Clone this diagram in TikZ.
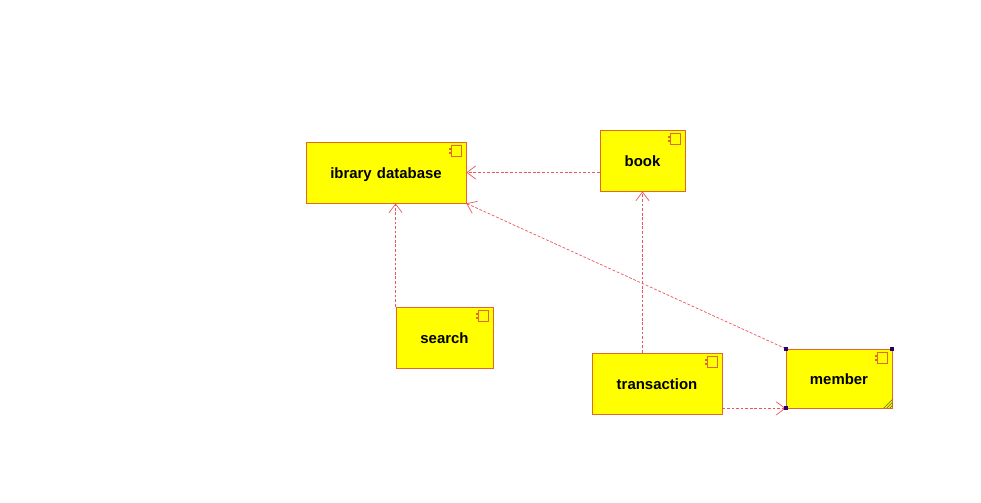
\documentclass[tikz,border=0pt]{standalone}
\usepackage{fontspec}
\setmainfont{Liberation Sans}
\usetikzlibrary{arrows.meta}
\definecolor{compfill}{RGB}{255,255,0}
\definecolor{compline}{RGB}{225,105,40}
\definecolor{depline}{RGB}{235,85,95}
\definecolor{handle}{RGB}{40,0,110}
\definecolor{grip}{RGB}{120,120,40}
\tikzset{
    compbox/.style={draw=compline,fill=compfill,line width=0.45pt,inner sep=0pt,text height=7.2pt,text depth=0pt,minimum height=1.22cm,font=\fontsize{8.5}{10}\selectfont\bfseries},
    dep/.style={draw=depline,line width=0.4pt,dash pattern=on 1.6pt off 1pt,-{Straight Barb[length=5pt,width=7.5pt,line width=0.4pt]}}
}
\begin{document}
\begin{tikzpicture}
    \useasboundingbox (0,0) rectangle (19.62,10.04);

    \node[compbox,minimum width=3.2cm] (library) at (7.72,6.59) {ibrary\hspace{0.35em}database};
    \node[compbox,minimum width=1.7cm] (book) at (12.85,6.83) {book};
    \node[compbox,minimum width=1.94cm] (search) at (8.89,3.29) {search};
    \node[compbox,minimum width=2.6cm] (transaction) at (13.14,2.37) {transaction};
    \node[compbox,minimum width=2.12cm,minimum height=1.18cm] (member) at (16.78,2.47) {member};

    % component icons
    \foreach \n in {library,book,search,transaction,member} {
        \draw[compline,line width=0.5pt] ([shift={(-0.3,-0.08)}]\n.north east) rectangle ([shift={(-0.1,-0.3)}]\n.north east);
        \fill[compline] ([shift={(-0.34,-0.13)}]\n.north east) rectangle ([shift={(-0.28,-0.17)}]\n.north east);
        \fill[compline] ([shift={(-0.34,-0.21)}]\n.north east) rectangle ([shift={(-0.28,-0.25)}]\n.north east);
    }

    \draw[dep] (book.west |- library.east) -- (library.east);
    \draw[dep] (search.north west) -- (search.north west |- library.south);
    \draw[dep] (book.south |- transaction.north) -- (book.south);
    \draw[dep] (member.north west) -- (library.south east);
    \draw[dep] (member.south west -| transaction.east) -- (member.south west);

    % selection handles
    \foreach \c in {north west,north east,south west} {
        \fill[handle] ([shift={(-0.04,-0.04)}]member.\c) rectangle ([shift={(0.04,0.04)}]member.\c);
    }
    \foreach \d in {0.06,0.12,0.18} {
        \draw[grip,line width=0.4pt] ([xshift=-\d cm]member.south east) -- ([yshift=\d cm]member.south east);
    }
\end{tikzpicture}
\end{document}
